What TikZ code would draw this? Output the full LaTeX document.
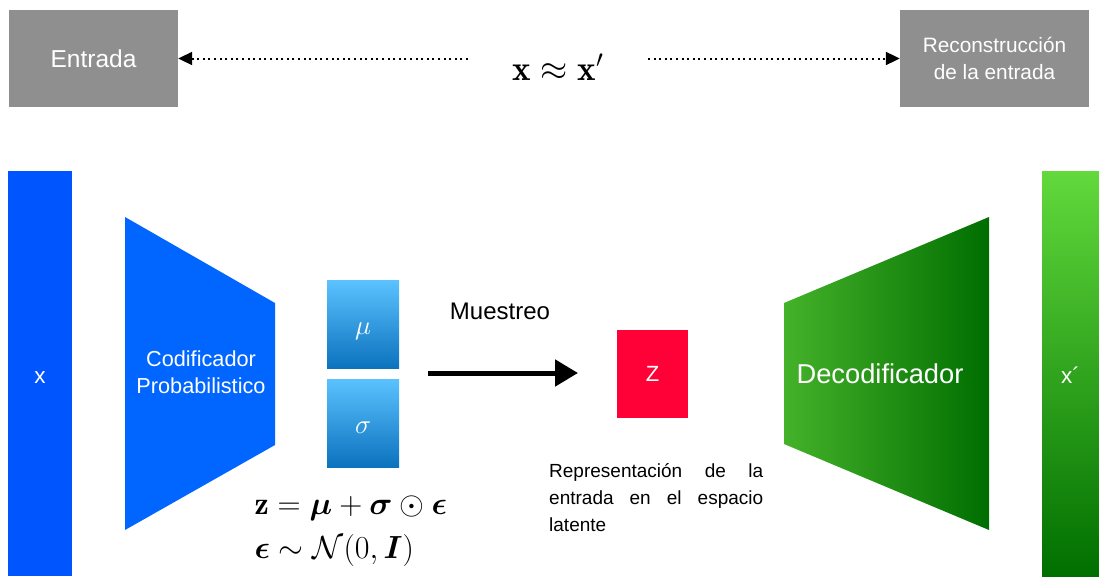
\RequirePackage{fix-cm}
\documentclass[tikz,border=0pt]{standalone}
\usepackage{fontspec}
\usepackage{amsmath, amssymb}
\usepackage{tikz}
\usetikzlibrary{arrows.meta}
\newfontfamily\helv{Liberation Sans}
\definecolor{boxgray}{HTML}{8F8F8F}
\definecolor{inblue}{HTML}{0055FF}
\definecolor{encblue}{HTML}{0066FF}
\definecolor{paramtop}{HTML}{5BC2FF}
\definecolor{parambot}{HTML}{0B72BE}
\definecolor{zred}{HTML}{FF0037}
\definecolor{decleft}{HTML}{45B22A}
\definecolor{decright}{HTML}{006E00}
\definecolor{outtop}{HTML}{62D93C}
\definecolor{outbot}{HTML}{006F00}

\begin{document}
\begin{tikzpicture}[x=1pt, y=-1pt, font=\helv,
graybox/.style={fill=boxgray, text=white, inner sep=0pt, minimum height=97pt, align=center},
parambox/.style={top color=paramtop, bottom color=parambot, text=white, inner sep=0pt, minimum width=72pt, minimum height=88pt},
dotarrow/.style={line width=2pt, dash pattern=on 2pt off 3.6pt, -{Triangle[length=14pt,width=13pt]}},
]
	\useasboundingbox (0,0) rectangle (1099,576);
	% top row
	\node[graybox, minimum width=169pt, font=\helv\fontsize{24.5}{28}\selectfont] (entrada) at (93.5,58.5) {Entrada};
	\node[graybox, minimum width=189pt, font=\helv\fontsize{20.8}{27}\selectfont] (recons) at (994.5,58.5) {Reconstrucción\\de la entrada};
	\node[font=\fontsize{35}{38}\selectfont] (approx) at (558,67) {$\mathbf{x}\approx\mathbf{x}'$};
	\coordinate (lstart) at (468,58.5);
	\coordinate (rstart) at (648,58.5);
	\draw[dotarrow] (lstart) -- (entrada);
	\draw[dotarrow] (rstart) -- (recons);
	% input and output
	\node[fill=inblue, text=white, inner sep=0pt, minimum width=64pt, minimum height=405pt, font=\helv\fontsize{22.5}{24}\selectfont] (input) at (40,373.5) {\raisebox{-10.3pt}[0pt][0pt]{x}};
	\node[top color=outtop, bottom color=outbot, text=white, inner sep=0pt, minimum width=57pt, minimum height=405pt, font=\helv\fontsize{22.5}{24}\selectfont] (output) at (1070.5,373.5) {\raisebox{-10.3pt}[0pt][0pt]{x´}};
	% encoder
	\fill[encblue] (125,217) -- (275,303) -- (275,445) -- (125,530) -- cycle;
	\node[text=white, align=center, font=\helv\fontsize{21.7}{27}\selectfont] (encoder) at (201,372) {Codificador\\Probabilistico};
	\node[parambox, font=\fontsize{27}{28}\selectfont] (mu) at (363,324.5) {\raisebox{-9.7pt}[0pt][0pt]{$\mu$}};
	\node[parambox, font=\fontsize{27}{28}\selectfont] (sigma) at (363,423) {\raisebox{-10.8pt}[0pt][0pt]{$\sigma$}};
	\node[anchor=west, align=left, font=\fontsize{32}{44}\selectfont] (formula) at (251,531) {$\mathbf{z}=\boldsymbol{\mu}+\boldsymbol{\sigma}\odot\boldsymbol{\epsilon}$\\$\boldsymbol{\epsilon}\sim\mathcal{N}(0,\boldsymbol{I})$};
	% sampling
	\coordinate (sstart) at (428,373);
	\coordinate (send) at (578,373);
	\draw[line width=5pt, -{Triangle[length=23pt,width=26pt]}] (sstart) -- (send);
	\node[font=\helv\fontsize{24}{26}\selectfont] (muestreo) at (500,311) {Muestreo};
	\node[fill=zred, text=white, inner sep=0pt, minimum width=71pt, minimum height=88pt, font=\helv\fontsize{22}{24}\selectfont] (z) at (652.5,374) {Z};
	\node[anchor=north west, inner sep=0pt, align=left, font=\helv\fontsize{19}{27}\selectfont] (latent) at (549,463) {\makebox[214pt][s]{Representación de la}\\\makebox[214pt][s]{entrada en el espacio}\\latente};
	% decoder
	\shade[left color=decleft, right color=decright] (784,303) -- (989,217) -- (989,530) -- (784,444) -- cycle;
	\node[text=white, font=\helv\fontsize{27.3}{30}\selectfont] (decoder) at (880,374) {Decodificador};
\end{tikzpicture}
\end{document}
